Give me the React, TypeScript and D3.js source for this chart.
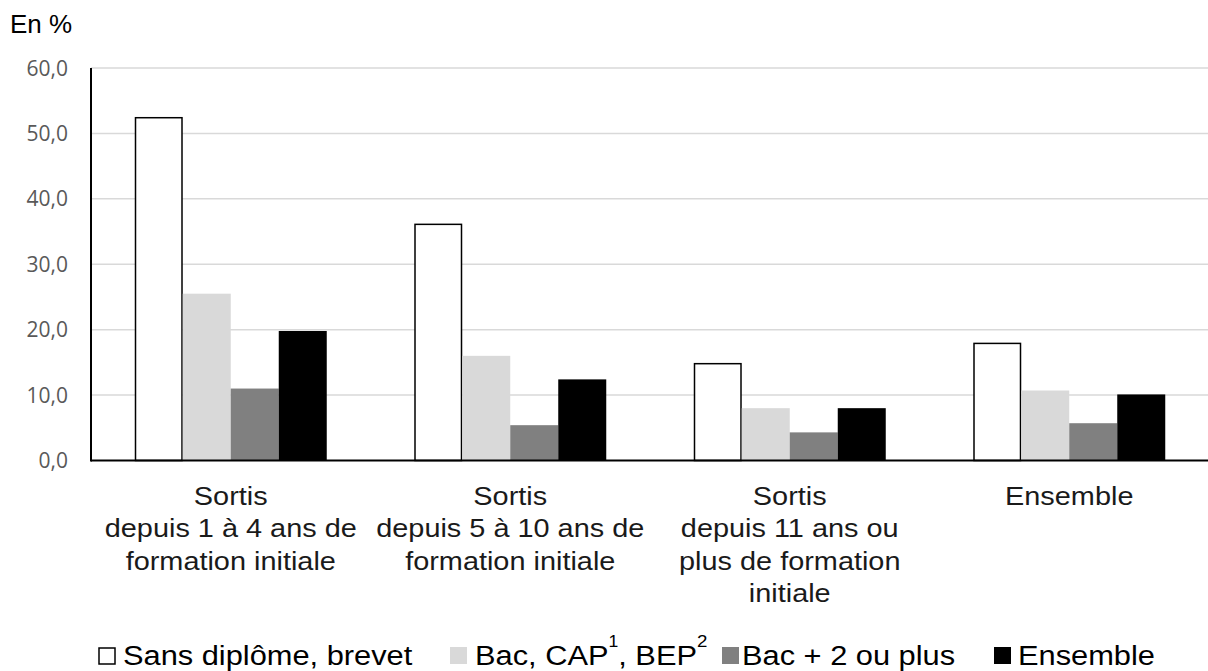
import * as d3 from "d3";

const categories = [
  ["Sortis", "depuis 1 à 4 ans de", "formation initiale"],
  ["Sortis", "depuis 5 à 10 ans de", "formation initiale"],
  ["Sortis", "depuis 11 ans ou", "plus de formation", "initiale"],
  ["Ensemble"],
];
const seriesNames = ["Sans diplôme, brevet", "Bac, CAP, BEP", "Bac + 2 ou plus", "Ensemble"];
const sansDiplome = [52.4, 36.1, 14.8, 17.9];
const bacCapBep = [25.5, 16.0, 8.0, 10.7];
const bacPlus2 = [11.0, 5.4, 4.3, 5.7];
const ensemble = [19.8, 12.4, 8.0, 10.1];
const yTicks = [0, 10, 20, 30, 40, 50, 60];

const fills = ["#ffffff", "#d9d9d9", "#808080", "#000000"];
const font = "'Liberation Sans', Arial, sans-serif";

export default function App() {
  const width = 1208;
  const height = 671;
  const margin = { top: 68, left: 91 };
  const series = [sansDiplome, bacCapBep, bacPlus2, ensemble];

  const x0 = d3
    .scaleBand<number>()
    .domain(categories.map((_, i) => i))
    .range([margin.left, margin.left + 4 * 279.5]);
  const x1 = d3
    .scaleBand<number>()
    .domain(series.map((_, i) => i))
    .range([43.75, 279.5 - 43.75]);
  const y = d3.scaleLinear().domain([0, 60]).range([460.5, 68]);
  const fmt = (v: number) => d3.format(".1f")(v).replace(".", ",");

  // legend layout: square left edge, text start
  const legendSq = [98, 450, 722, 994];
  const legendTx = [123, 475, 742, 1018];
  const stretch = "scale(1.1,1)";

  return (
    <svg
      width={width}
      height={height}
      style={{ position: "absolute", left: 0, top: 0, background: "#fff" }}
      fontFamily={font}
    >
      <text x={10} y={33} fontSize={26} fill="#000">
        En %
      </text>

      {yTicks.map((t) => (
        <g key={t}>
          {t > 0 && (
            <line
              x1={margin.left}
              x2={width}
              y1={y(t)}
              y2={y(t)}
              stroke="#d9d9d9"
              strokeWidth={1.5}
            />
          )}
          <text
            x={68}
            y={y(t)}
            dy="0.36em"
            textAnchor="end"
            fontSize={21}
            fontFamily="'Open Sans', sans-serif"
            fill="#595959"
          >
            {fmt(t)}
          </text>
        </g>
      ))}

      {categories.map((_, ci) => (
        <g key={ci}>
          {series.map((s, si) => {
            const bx = (x0(ci) ?? 0) + (x1(si) ?? 0);
            const top = y(s[ci]);
            return (
              <rect
                key={si}
                x={bx + (si === 0 ? 0.75 : 0)}
                y={top}
                width={x1.bandwidth() - (si === 0 ? 1.5 : 0)}
                height={y(0) - top}
                fill={fills[si]}
                stroke={si === 0 ? "#000" : "none"}
                strokeWidth={si === 0 ? 1.5 : 0}
              />
            );
          })}
        </g>
      ))}

      <line x1={margin.left} x2={margin.left} y1={68} y2={461.5} stroke="#000" strokeWidth={2} />
      <line x1={margin.left} x2={width} y1={460.5} y2={460.5} stroke="#000" strokeWidth={2} />

      {categories.map((lines, ci) => {
        const cx = (x0(ci) ?? 0) + x0.bandwidth() / 2;
        return (
          <g key={ci}>
            {lines.map((ln, li) => (
              <text
                key={li}
                transform={`translate(${cx},${504.5 + li * 32.5}) scale(1.09,1)`}
                textAnchor="middle"
                fontSize={26.5}
                fill="#1a1a1a"
              >
                {ln}
              </text>
            ))}
          </g>
        );
      })}

      {seriesNames.map((name, i) => (
        <g key={name}>
          <rect
            x={legendSq[i] + (i === 0 ? 1 : 0)}
            y={647 + (i === 0 ? 1 : 0)}
            width={i === 0 ? 16 : 17}
            height={i === 0 ? 16 : 17}
            fill={fills[i]}
            stroke={i === 0 ? "#000" : "none"}
            strokeWidth={1.5}
          />
          <text transform={`translate(${legendTx[i]},665) ${stretch}`} fontSize={28} fill="#000">
            {i === 1 ? (
              <>
                Bac, CAP
                <tspan fontSize={16} dy={-18}>1</tspan>
                <tspan dy={18}>, BEP</tspan>
                <tspan fontSize={17} dy={-18}>2</tspan>
              </>
            ) : (
              name
            )}
          </text>
        </g>
      ))}
    </svg>
  );
}
